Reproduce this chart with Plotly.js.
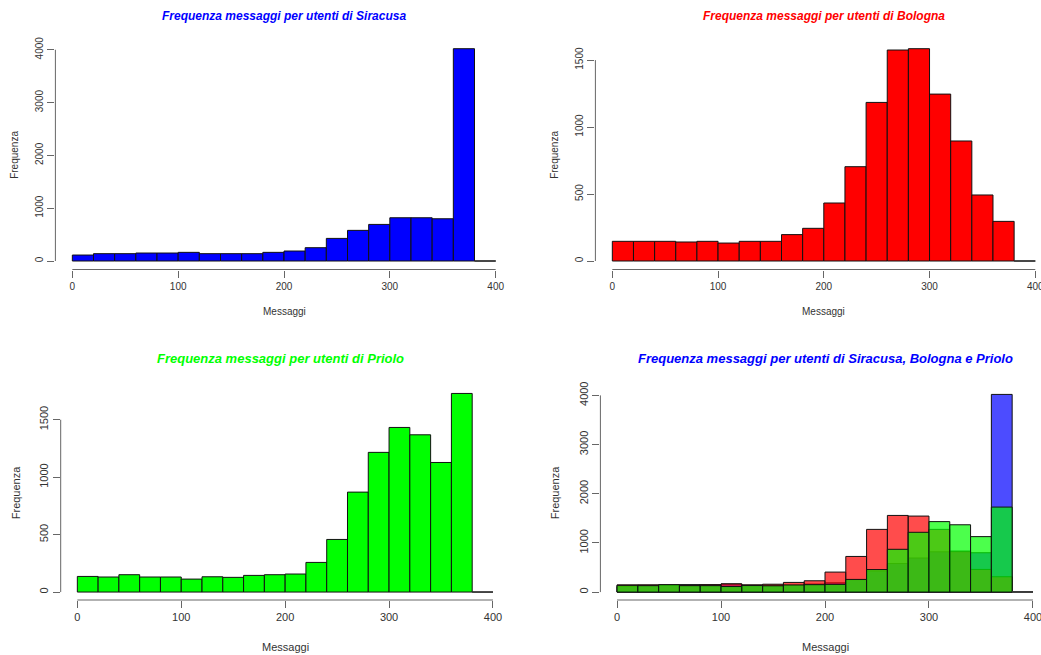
<!DOCTYPE html>
<html>
<head>
<meta charset="utf-8">
<script src="https://cdn.plot.ly/plotly-3.0.1.min.js"></script>
<style>
html, body { margin: 0; padding: 0; overflow: hidden; background: #ffffff; }
#chart { width: 1060px; height: 655px; }
</style>
</head>
<body>
<div id="chart"></div>
<script>
// ---- data (counts per 20-message bin) ----
const binStarts = [0, 20, 40, 60, 80, 100, 120, 140, 160, 180, 200, 220, 240, 260, 280, 300, 320, 340, 360, 380];
const binWidth = 20;
const siracusa = [113, 139, 139, 151, 151, 164, 139, 139, 139, 164, 189, 252, 428, 580, 693, 819, 819, 800, 4020, 0];
const bologna  = [147, 147, 147, 142, 147, 134, 147, 147, 197, 244, 433, 704, 1184, 1575, 1585, 1246, 896, 493, 296, 0];
const priolo   = [136, 131, 151, 131, 131, 113, 133, 128, 145, 151, 157, 258, 458, 870, 1216, 1433, 1369, 1128, 1729, 0];
// Bologna counts as they appear in the combined panel
const bolognaCombined = [147, 147, 147, 142, 147, 168, 147, 160, 197, 230, 407, 725, 1275, 1559, 1546, 1275, 834, 461, 312, 0];

const xTicks = [0, 100, 200, 300, 400];
const yTicksSiracusa = [0, 1000, 2000, 3000, 4000];
const yTicksBologna = [0, 500, 1000, 1500];
const yTicksPriolo = [0, 500, 1000, 1500];
const yTicksAll = [0, 1000, 2000, 3000, 4000];

const titles = [
  'Frequenza messaggi per utenti di Siracusa',
  'Frequenza messaggi per utenti di Bologna',
  'Frequenza messaggi per utenti di Priolo',
  'Frequenza messaggi per utenti di Siracusa, Bologna e Priolo'
];
const titleColors = ['#0000FF', '#FF0000', '#00FF00', '#0000FF'];
const xLabel = 'Messaggi';
const yLabel = 'Frequenza';

// ---- layout geometry (pixels) ----
const W = 1060, H = 655;
const regions = [
  {l: 55.4,  r: 512.6,  t: 40.2,  b: 269.5},
  {l: 595.4, r: 1052.2, t: 40.2,  b: 269.5},
  {l: 60.7,  r: 509.6,  t: 385.5, b: 600},
  {l: 600.4, r: 1049.6, t: 386.5, b: 600}
];
const titleX = [284, 824, 280, 825];
const titleY = [16, 16, 358, 358];
const xLabelY = [311.5, 311.5, 646.5, 646.5];
const yLabelX = [15, 555, 15.5, 555];
const titleSize = [12, 12, 13, 13];
const tickSize = [10, 10, 11, 11];
const labelSize = [10, 10, 11, 11];

const FONT = 'Arial, "Liberation Sans", sans-serif';
const AXIS_COL = '#666666';

const panels = [
  {series: [{y: siracusa, color: '#0000FF'}], ticks: yTicksSiracusa},
  {series: [{y: bologna, color: '#FF0000'}], ticks: yTicksBologna},
  {series: [{y: priolo, color: '#00FF00'}], ticks: yTicksPriolo},
  {series: [
    {y: siracusa, color: 'rgba(0,0,255,0.7)'},
    {y: bolognaCombined, color: 'rgba(255,0,0,0.7)'},
    {y: priolo, color: 'rgba(0,255,0,0.7)'}
  ], ticks: yTicksAll}
];

const traces = [];
const layout = {
  width: W, height: H,
  margin: {l: 0, r: 0, t: 0, b: 0},
  paper_bgcolor: '#ffffff',
  plot_bgcolor: 'rgba(0,0,0,0)',
  barmode: 'overlay',
  bargap: 0,
  showlegend: false,
  font: {family: FONT, size: 10, color: '#333333'},
  annotations: [],
  shapes: []
};

panels.forEach((p, i) => {
  const n = i + 1;
  const xa = 'x' + (n === 1 ? '' : n);
  const ya = 'y' + (n === 1 ? '' : n);
  const xKey = 'xaxis' + (n === 1 ? '' : n);
  const yKey = 'yaxis' + (n === 1 ? '' : n);
  const reg = regions[i];

  let maxCount = 0;
  p.series.forEach(s => {
    maxCount = Math.max(maxCount, ...s.y);
    traces.push({
      type: 'bar', x: binStarts, y: s.y, width: binWidth, offset: 0,
      xaxis: xa, yaxis: ya,
      marker: {color: s.color, line: {color: '#111111', width: 1}},
      hoverinfo: 'x+y'
    });
    // empty bins are drawn by R as a flat segment on the baseline
    s.y.forEach((v, k) => {
      if (v === 0) {
        traces.push({
          type: 'scatter', mode: 'lines',
          x: [binStarts[k], binStarts[k] + binWidth], y: [v, v],
          xaxis: xa, yaxis: ya,
          line: {color: '#444444', width: 1},
          hoverinfo: 'skip'
        });
      }
    });
  });

  const xMin = xTicks[0], xMax = xTicks[xTicks.length - 1];
  const xPad = 0.04 * (xMax - xMin);
  layout[xKey] = {
    domain: [reg.l / W, reg.r / W],
    range: [xMin - xPad, xMax + xPad],
    anchor: ya,
    tickvals: xTicks, ticktext: xTicks.map(String),
    ticks: 'outside', ticklen: 7, tickwidth: 1, tickcolor: AXIS_COL,
    showline: false, showgrid: false, zeroline: false,
    tickfont: {family: FONT, size: tickSize[i], color: '#333333'},
    fixedrange: true
  };
  layout[yKey] = {
    domain: [1 - reg.b / H, 1 - reg.t / H],
    range: [-0.04 * maxCount, 1.04 * maxCount],
    anchor: xa,
    tickvals: p.ticks, ticktext: p.ticks.map(String),
    tickangle: -90,
    ticks: 'outside', ticklen: 7, tickwidth: 1, tickcolor: AXIS_COL,
    showline: false, showgrid: false, zeroline: false,
    tickfont: {family: FONT, size: tickSize[i], color: '#333333'},
    fixedrange: true
  };

  // R-style axis lines spanning first to last tick
  layout.shapes.push({
    type: 'line', xref: xa, yref: ya + ' domain',
    x0: xTicks[0], x1: xTicks[xTicks.length - 1], y0: 0, y1: 0,
    line: {color: AXIS_COL, width: 1}
  });
  layout.shapes.push({
    type: 'line', xref: xa + ' domain', yref: ya,
    x0: 0, x1: 0, y0: p.ticks[0], y1: p.ticks[p.ticks.length - 1],
    line: {color: AXIS_COL, width: 1}
  });

  // titles
  layout.annotations.push({
    text: titles[i], xref: 'paper', yref: 'paper',
    x: titleX[i] / W, y: 1 - titleY[i] / H,
    xanchor: 'center', yanchor: 'middle', showarrow: false,
    font: {family: FONT, size: titleSize[i], color: titleColors[i], weight: 'bold', style: 'italic'}
  });
  layout.annotations.push({
    text: xLabel, xref: 'paper', yref: 'paper',
    x: (reg.l + reg.r) / 2 / W, y: 1 - xLabelY[i] / H,
    xanchor: 'center', yanchor: 'middle', showarrow: false,
    font: {family: FONT, size: labelSize[i], color: '#333333'}
  });
  layout.annotations.push({
    text: yLabel, xref: 'paper', yref: 'paper',
    x: yLabelX[i] / W, y: 1 - (reg.t + reg.b) / 2 / H,
    xanchor: 'center', yanchor: 'middle', showarrow: false, textangle: -90,
    font: {family: FONT, size: labelSize[i], color: '#333333'}
  });
});

Plotly.newPlot('chart', traces, layout, {displayModeBar: false, staticPlot: true});
</script>
</body>
</html>
